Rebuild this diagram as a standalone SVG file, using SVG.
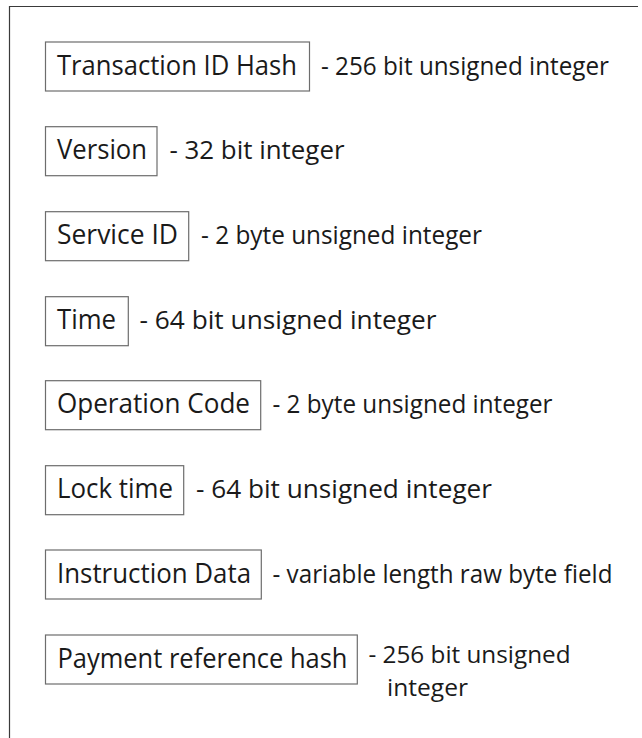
<svg xmlns="http://www.w3.org/2000/svg" width="642" height="738" viewBox="0 0 642 738">
  <style>
    .frame { fill: none; stroke: #3a3a3a; stroke-width: 1.2; }
    .box { fill: #ffffff; stroke: #6d6d6d; stroke-width: 1.2; }
    .lbl { font-family: "Open Sans", "Noto Sans", "DejaVu Sans", sans-serif; font-size: 27px; fill: #1a1a1a; }
    .desc { font-family: "Open Sans", "Noto Sans", "DejaVu Sans", sans-serif; font-size: 25.5px; fill: #1a1a1a; }
    .desc2 { font-family: "Open Sans", "Noto Sans", "DejaVu Sans", sans-serif; font-size: 23.5px; fill: #1a1a1a; }
  </style>
  <rect x="0" y="0" width="642" height="738" fill="#ffffff"/>
  <g id="frame">
    <path class="frame" d="M9.5 738 V6.5 H638"/>
  </g>
  <g id="node-txid">
    <rect class="box" x="45.5" y="42" width="264" height="49"/>
    <text class="lbl" x="57" y="74.5" textLength="240" lengthAdjust="spacingAndGlyphs">Transaction ID Hash</text>
    <text class="desc" x="321" y="74.5" textLength="288" lengthAdjust="spacingAndGlyphs">- 256 bit unsigned integer</text>
  </g>
  <g id="node-version">
    <rect class="box" x="45.5" y="126.7" width="111.5" height="49"/>
    <text class="lbl" x="57" y="159.2" textLength="90" lengthAdjust="spacingAndGlyphs">Version</text>
    <text class="desc" x="169.5" y="159.2" textLength="175" lengthAdjust="spacingAndGlyphs">- 32 bit integer</text>
  </g>
  <g id="node-service">
    <rect class="box" x="45.5" y="211.7" width="143.2" height="49"/>
    <text class="lbl" x="57" y="244.2" textLength="121" lengthAdjust="spacingAndGlyphs">Service ID</text>
    <text class="desc" x="201" y="244.2" textLength="281" lengthAdjust="spacingAndGlyphs">- 2 byte unsigned integer</text>
  </g>
  <g id="node-time">
    <rect class="box" x="45.5" y="296.7" width="82.8" height="49"/>
    <text class="lbl" x="57" y="329.2" textLength="59" lengthAdjust="spacingAndGlyphs">Time</text>
    <text class="desc" x="139.5" y="329.2" textLength="297" lengthAdjust="spacingAndGlyphs">- 64 bit unsigned integer</text>
  </g>
  <g id="node-opcode">
    <rect class="box" x="45.5" y="380.7" width="215.2" height="49"/>
    <text class="lbl" x="57" y="413.2" textLength="193" lengthAdjust="spacingAndGlyphs">Operation Code</text>
    <text class="desc" x="272.5" y="413.2" textLength="280" lengthAdjust="spacingAndGlyphs">- 2 byte unsigned integer</text>
  </g>
  <g id="node-locktime">
    <rect class="box" x="45.5" y="465.7" width="138.2" height="49"/>
    <text class="lbl" x="57" y="498.2" textLength="116" lengthAdjust="spacingAndGlyphs">Lock time</text>
    <text class="desc" x="196" y="498.2" textLength="296" lengthAdjust="spacingAndGlyphs">- 64 bit unsigned integer</text>
  </g>
  <g id="node-instruction">
    <rect class="box" x="45.5" y="550" width="215.8" height="49"/>
    <text class="lbl" x="57" y="582.5" textLength="194" lengthAdjust="spacingAndGlyphs">Instruction Data</text>
    <text class="desc" x="272.5" y="582.5" textLength="340" lengthAdjust="spacingAndGlyphs">- variable length raw byte field</text>
  </g>
  <g id="node-payment">
    <rect class="box" x="45.5" y="635" width="311.8" height="49"/>
    <text class="lbl" x="57.5" y="667.5" textLength="290" lengthAdjust="spacingAndGlyphs">Payment reference hash</text>
    <text class="desc2" x="368.5" y="663" textLength="202" lengthAdjust="spacingAndGlyphs">- 256 bit unsigned</text>
    <text class="desc2" x="387" y="695.5" textLength="81" lengthAdjust="spacingAndGlyphs">integer</text>
  </g>
</svg>
